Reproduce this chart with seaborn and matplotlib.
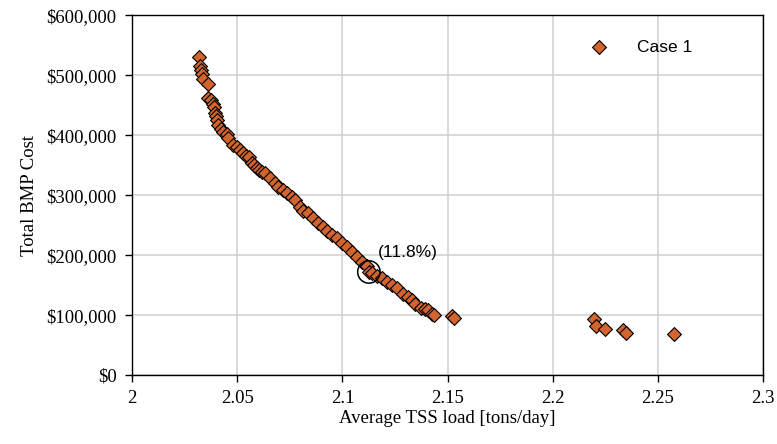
import matplotlib
matplotlib.use("Agg")
import matplotlib.pyplot as plt
import seaborn as sns
import pandas as pd
from matplotlib.ticker import FuncFormatter

# ---- data ----
tss_load = [
    2.0318, 2.0323, 2.0327, 2.0332, 2.0338, 2.0359, 2.0362, 2.0375, 2.0386, 2.0391,
    2.0394, 2.0397, 2.0402, 2.0410, 2.0421, 2.0433, 2.0450, 2.0457, 2.0481, 2.0497,
    2.0513, 2.0529, 2.0541, 2.0557, 2.0569, 2.0579, 2.0592, 2.0603, 2.0616, 2.0632,
    2.0656, 2.0679, 2.0695, 2.0719, 2.0735, 2.0759, 2.0775, 2.0798, 2.0814, 2.0838,
    2.0862, 2.0885, 2.0909, 2.0925, 2.0949, 2.0973, 2.0997, 2.1020, 2.1044, 2.1068,
    2.1092, 2.1116, 2.1126, 2.1139, 2.1163, 2.1187, 2.1211, 2.1235, 2.1258, 2.1290,
    2.1314, 2.1330, 2.1345, 2.1373, 2.1393, 2.1409, 2.1425, 2.1436, 2.1520, 2.1531,
    2.2194, 2.2206, 2.2249, 2.2336, 2.2349, 2.2578,
]
bmp_cost = [
    529500, 515500, 508300, 501700, 493300, 485000, 462200, 458300, 451200, 446700,
    436200, 431700, 425000, 416700, 410000, 404500, 401200, 394500, 383300, 379500,
    375000, 369500, 365000, 362800, 352800, 350000, 344500, 341700, 338800, 336200,
    327800, 319500, 313800, 308300, 302800, 296200, 291700, 279500, 273800, 269500,
    261200, 252800, 246200, 240500, 233300, 227800, 219500, 212800, 205500, 197200,
    188800, 181700, 172000, 170800, 165000, 161200, 155500, 150000, 144500, 135000,
    130500, 125000, 118300, 111200, 110000, 108300, 101700, 100000, 98300, 95500,
    93300, 81700, 76700, 75000, 70500, 67800,
]
series_label = "Case 1"

highlight_x = [2.1126]
highlight_y = [172000]
highlight_text = "(11.8%)"
text_x, text_y = 2.1169, 205000

x_ticks = [2, 2.05, 2.1, 2.15, 2.2, 2.25, 2.3]
x_tick_labels = ["2", "2.05", "2.1", "2.15", "2.2", "2.25", "2.3"]
y_ticks = [0, 100000, 200000, 300000, 400000, 500000, 600000]

df = pd.DataFrame({"load": tss_load, "cost": bmp_cost})

sns.set_theme(style="white")
plt.rcParams["font.family"] = ["Liberation Serif", "DejaVu Serif"]
plt.rcParams["text.color"] = "black"
plt.rcParams["axes.labelcolor"] = "black"

fig = plt.figure(figsize=(7.77, 4.44), dpi=100)
ax = fig.add_axes([0.170, 0.155, 0.812, 0.811])

sns.scatterplot(data=df, x="load", y="cost", marker="D", s=50,
                color="#D2642D", edgecolor="black", linewidth=0.8,
                label=series_label, ax=ax, zorder=3)

# highlight circle
ax.scatter(highlight_x, highlight_y, s=260, facecolors="none",
           edgecolors="black", linewidths=1.1, zorder=4)
ax.text(text_x, text_y, highlight_text, ha="left", va="center", color="black",
        fontsize=12.5, family=["Liberation Sans", "DejaVu Sans"])

ax.set_xlim(2, 2.3)
ax.set_ylim(0, 600000)
ax.set_xticks(x_ticks)
ax.set_xticklabels(x_tick_labels)
ax.set_yticks(y_ticks)
ax.yaxis.set_major_formatter(FuncFormatter(lambda v, p: "${:,.0f}".format(v)))

ax.grid(True, color="#d0d0d0", linewidth=1.1)
ax.set_axisbelow(True)
for sp in ax.spines.values():
    sp.set_visible(True)
    sp.set_color("black")
    sp.set_linewidth(1.0)

ax.tick_params(axis="both", direction="out", length=5, width=1, color="black",
               labelsize=13.5, labelcolor="black", pad=6,
               bottom=True, left=True, top=False, right=False)
ax.set_xlabel("Average TSS load [tons/day]", fontsize=13.5, color="black", labelpad=2)
ax.set_ylabel("Total BMP Cost", fontsize=13.5, color="black", labelpad=6)

leg = ax.legend(loc="upper right", bbox_to_anchor=(0.913, 0.975), frameon=False,
                prop={"family": ["Liberation Sans", "DejaVu Sans"], "size": 12.5},
                handletextpad=1.2, markerscale=1.0)
for t in leg.get_texts():
    t.set_color("black")

fig.savefig("out.png", dpi=100)
